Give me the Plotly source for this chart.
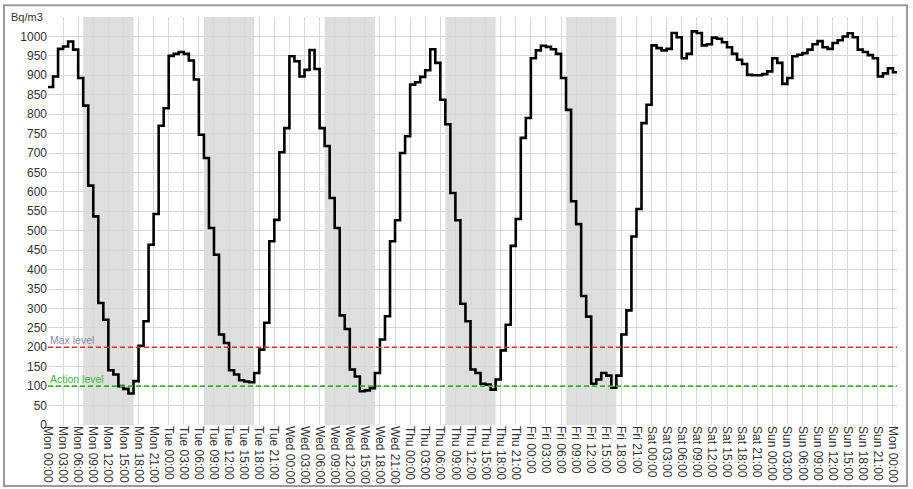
import plotly.graph_objects as go

# ---- data (hourly readings, Bq/m3) ----
days = ["Mon", "Tue", "Wed", "Thu", "Fri", "Sat", "Sun", "Mon"]
tick_times = ["00:00", "03:00", "06:00", "09:00", "12:00", "15:00", "18:00", "21:00"]

mon = [870, 897, 968, 974, 987, 966, 893, 822, 616, 537, 314, 271,
       141, 130, 100, 93, 81, 113, 204, 267, 464, 543, 770, 815]
tue = [950, 955, 960, 955, 938, 889, 747, 687, 507, 438, 233, 211,
       141, 130, 115, 112, 110, 134, 194, 263, 473, 528, 702, 764]
wed = [949, 936, 897, 914, 965, 916, 764, 718, 584, 507, 282, 247,
       143, 125, 87, 89, 95, 134, 220, 280, 473, 527, 700, 743]
thu = [876, 882, 896, 913, 967, 932, 837, 774, 597, 527, 312, 267,
       143, 134, 106, 104, 91, 117, 192, 258, 461, 530, 739, 790]
fri = [944, 964, 976, 973, 967, 955, 893, 811, 576, 517, 332, 279,
       106, 117, 134, 127, 96, 127, 233, 295, 485, 556, 777, 824]
sat = [977, 970, 964, 968, 1009, 998, 944, 955, 1013, 1009, 977, 980,
       997, 994, 985, 972, 955, 940, 929, 901, 900, 900, 903, 910]
sun = [944, 932, 878, 893, 949, 953, 957, 966, 980, 988, 972, 968,
       983, 990, 1000, 1008, 998, 966, 960, 952, 944, 897, 905, 918]
next_mon = [908]

max_level = 200
action_level = 100
work_start, work_end = 7, 17  # shaded working hours on weekdays

values = mon + tue + wed + thu + fri + sat + sun + next_mon
hours = list(range(len(values)))
# extend final step to the right edge
xs = hours + [hours[-1] + 1]
ys = values + [values[-1]]

tickvals = list(range(0, 169, 3))
ticktext = []
for i, tv in enumerate(tickvals):
    ticktext.append(f"{days[tv // 24]} {tick_times[(tv % 24) // 3]}")

fig = go.Figure()
fig.add_trace(go.Scatter(
    x=xs, y=ys, mode="lines",
    line=dict(color="black", width=2.6, shape="hv"),
    hoverinfo="skip", showlegend=False,
))

shapes = []
for d in range(5):
    shapes.append(dict(
        type="rect", xref="x", yref="paper",
        x0=24 * d + work_start, x1=24 * d + work_end, y0=0, y1=1,
        fillcolor="#dedede", line=dict(width=0), layer="below",
    ))
shapes.append(dict(type="line", xref="paper", yref="y", x0=0, x1=1,
                   y0=max_level, y1=max_level,
                   line=dict(color="#e0302c", width=1.6, dash="5px,3px")))
shapes.append(dict(type="line", xref="paper", yref="y", x0=0, x1=1,
                   y0=action_level, y1=action_level,
                   line=dict(color="#2fb52f", width=1.6, dash="5px,3px")))
# outer frame
shapes.append(dict(type="rect", xref="paper", yref="paper",
                   x0=-0.0518, x1=1.0118, y0=-0.1495, y1=1.029,
                   line=dict(color="#9a9a9a", width=2), fillcolor="rgba(0,0,0,0)",
                   layer="above"))

annotations = [
    dict(text="Bq/m3", xref="paper", yref="paper", x=-0.004, y=1.0,
         xanchor="right", yanchor="middle", showarrow=False,
         font=dict(size=11, color="#333")),
    dict(text="Max level", xref="paper", yref="y", x=0, y=max_level,
         xanchor="left", yanchor="bottom", showarrow=False, yshift=-1,
         font=dict(size=10.5, color="#8a8aa6")),
    dict(text="Action level", xref="paper", yref="y", x=0, y=action_level,
         xanchor="left", yanchor="bottom", showarrow=False, yshift=-1,
         font=dict(size=10.5, color="#3dba3d")),
]

fig.update_layout(
    width=913, height=489,
    margin=dict(l=48, r=16, t=17, b=64),
    paper_bgcolor="white", plot_bgcolor="white",
    font=dict(family="Liberation Sans, Arial, sans-serif", size=12, color="#333"),
    shapes=shapes, annotations=annotations,
    xaxis=dict(range=[0, 168.8], tickvals=tickvals, ticktext=ticktext,
               tickangle=90, showgrid=True, gridcolor="#d8d8d8", gridwidth=1,
               zeroline=False, showline=False, ticks="", tickfont=dict(size=12),
               automargin=False),
    yaxis=dict(range=[0, 1050], tickvals=list(range(0, 1001, 50)),
               showgrid=True, gridcolor="#d8d8d8", gridwidth=1,
               zeroline=False, showline=False, ticks="", tickfont=dict(size=12),
               automargin=False),
)

fig.write_html("out.html", config={"displayModeBar": False},
               post_script="document.body.style.margin='0';")
